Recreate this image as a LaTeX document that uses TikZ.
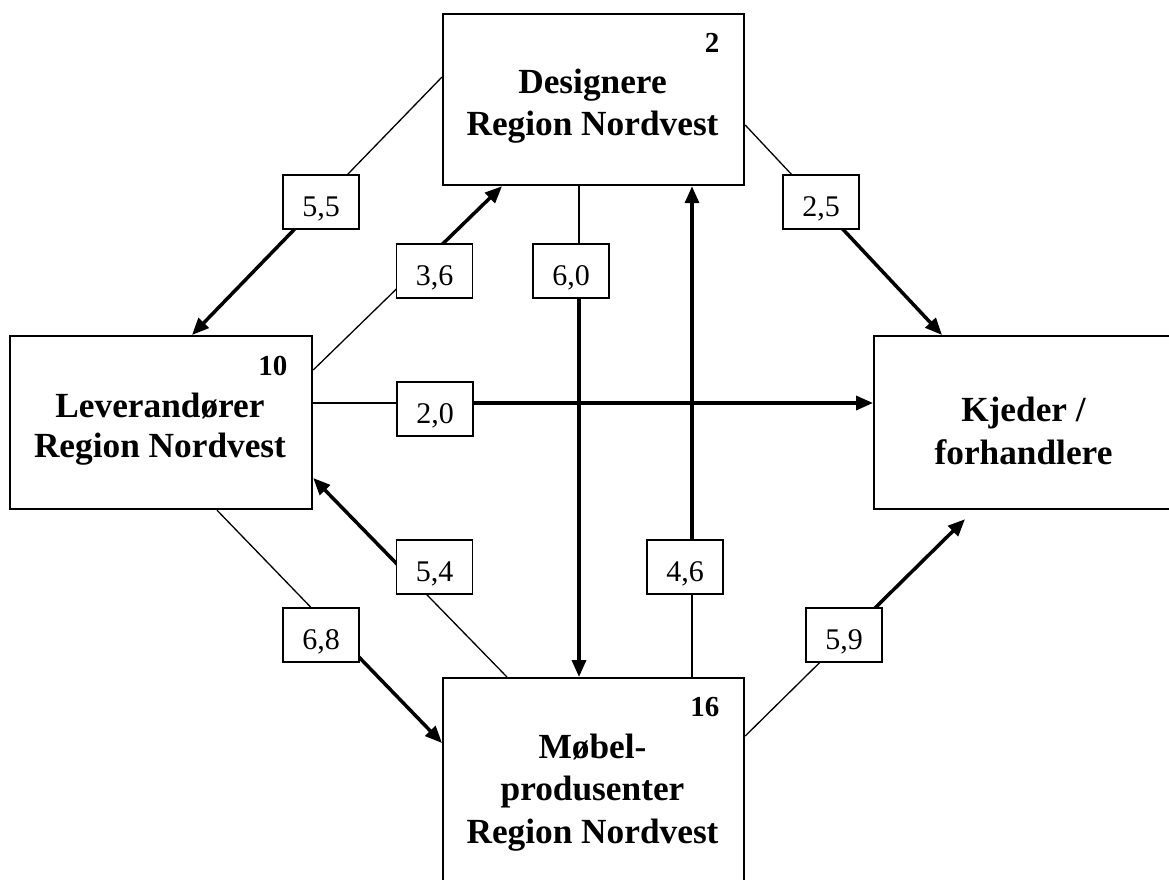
\documentclass[tikz,border=0pt]{standalone}
\usepackage{fontspec}
\setmainfont{Liberation Serif}
\usetikzlibrary{arrows.meta,calc}

\begin{document}
\begin{tikzpicture}[x=1pt,y=-1pt,
  box/.style={draw,line width=2.2pt,rectangle,inner sep=0pt,anchor=north west},
  rate/.style={draw,line width=1.8pt,fill=white,inner sep=0pt,
    minimum width=76pt,minimum height=54pt,text height=29.4pt,text depth=0pt,
    font=\fontsize{30}{34}\selectfont},
  title/.style={anchor=base,align=center,font=\fontsize{35.3}{42}\selectfont\bfseries},
  count/.style={anchor=base east,font=\fontsize{29}{34}\selectfont\bfseries},
  weak/.style={line width=1.3pt},
  strong/.style={line width=3.5pt,-{Triangle[length=17pt,width=14pt]}}
]
\useasboundingbox (0,0) rectangle (1169,879);
\clip (0,0) rectangle (1169,879);

% actors
\node[box,minimum width=301pt,minimum height=171pt] (des) at (442,13) {};
\node[box,minimum width=302pt,minimum height=173pt] (lev) at (9,335) {};
\node[box,minimum width=301pt,minimum height=173pt] (kje) at (873,335) {};
\node[box,minimum width=301pt,minimum height=213pt] (mob) at (442,677) {};

% titles, placed by the baseline of their last line
\node[title] (desT) at (592.5,135) {Designere\\Region Nordvest};
\node[title,font=\fontsize{35.3}{40}\selectfont\bfseries] (levT) at (160,457) {Leverandører\\Region Nordvest};
\node[title,font=\fontsize{35.3}{43}\selectfont\bfseries] (kjeT) at (1023.5,464) {Kjeder /\\forhandlere};
\node[title,font=\fontsize{35.3}{42.5}\selectfont\bfseries] (mobT) at (592.5,843) {Møbel-\\produsenter\\Region Nordvest};

\node[count] (desN) at (723,52) {2};
\node[count] (levN) at (291,375) {10};
\node[count] (mobN) at (723,716) {16};

% attachment points on the actor boxes
\coordinate (a1) at ($(des.north west)+(0,64)$);
\coordinate (b1) at ($(lev.north west)+(183,0)$);
\coordinate (a2) at ($(lev.north east)+(0,35)$);
\coordinate (b2) at ($(des.south west)+(60,0)$);
\coordinate (a3) at ($(des.south west)+(137,0)$);
\coordinate (b3) at ($(mob.north west)+(137,0)$);
\coordinate (a4) at ($(mob.north west)+(250,0)$);
\coordinate (b4) at ($(des.south west)+(250,0)$);
\coordinate (a5) at ($(des.north east)+(0,112)$);
\coordinate (b5) at ($(kje.north west)+(69,0)$);
\coordinate (a6) at ($(lev.north east)+(0,68)$);
\coordinate (b6) at ($(kje.north west)+(0,68)$);
\coordinate (a7) at ($(mob.north west)+(65,0)$);
\coordinate (b7) at ($(lev.north east)+(0,143)$);
\coordinate (a8) at ($(lev.south west)+(208,0)$);
\coordinate (b8) at ($(mob.north west)+(0,66)$);
\coordinate (a9) at ($(mob.north east)+(0,59)$);
\coordinate (b9) at ($(kje.south west)+(92,9)$);

% split points, hidden under the rate boxes
\coordinate (m1) at ($(a1)!0.5!(b1)$);
\coordinate (m2) at ($(a2)!0.6!(b2)$);
\coordinate (m3) at ($(a3)!0.18!(b3)$);
\coordinate (m4) at ($(a4)!0.22!(b4)$);
\coordinate (m5) at ($(a5)!0.4!(b5)$);
\coordinate (m6) at ($(a6)!0.2!(b6)$);
\coordinate (m7) at ($(a7)!0.5!(b7)$);
\coordinate (m8) at ($(a8)!0.5!(b8)$);
\coordinate (m9) at ($(a9)!0.5!(b9)$);

\foreach \i in {1,...,9}{
  \draw[weak] (a\i) -- (m\i);
  \draw[strong] (m\i) -- (b\i);
}

% rates
\node[rate] (r55) at (321,202) {5,5};
\node[rate] (r36) at (434.5,271) {3,6};
\node[rate] (r60) at (571,271) {6,0};
\node[rate] (r25) at (821,202) {2,5};
\node[rate] (r20) at (435,409) {2,0};
\node[rate] (r54) at (434.5,567) {5,4};
\node[rate] (r46) at (685,567) {4,6};
\node[rate] (r68) at (321,635) {6,8};
\node[rate] (r59) at (844,635) {5,9};
\end{tikzpicture}
\end{document}
